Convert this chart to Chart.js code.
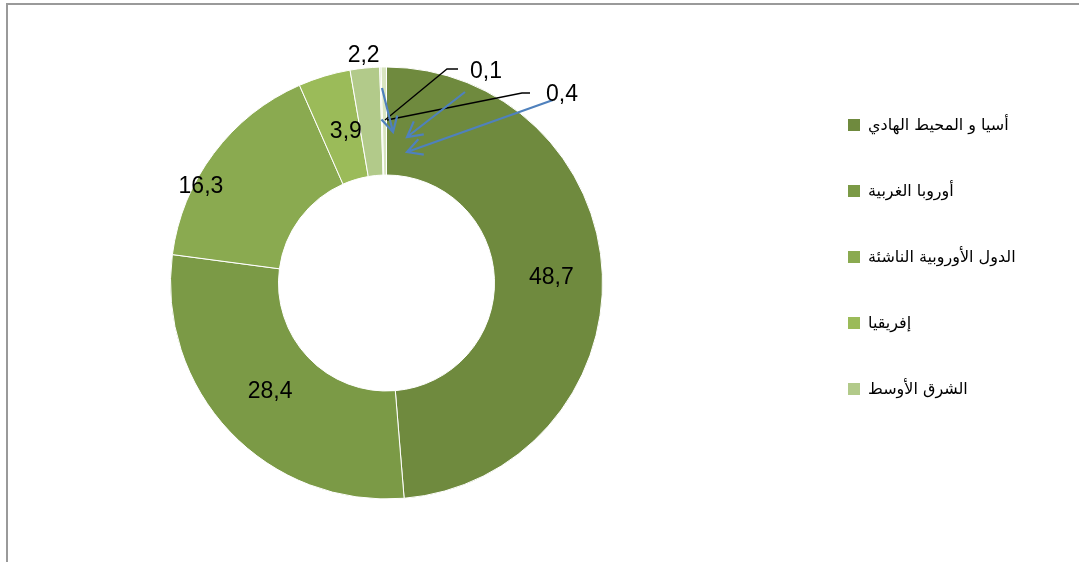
<!DOCTYPE html>
<html>
<head>
<meta charset="utf-8">
<script src="https://cdn.jsdelivr.net/npm/chart.js@4.4.1/dist/chart.umd.min.js"></script>
<style>
    body { margin: 0; background: #fff; width: 1079px; height: 562px; overflow: hidden; position: relative; }
    #frame { position: absolute; left: 6px; top: 3px; width: 1100px; height: 600px; border-left: 2px solid #9a9a9a; border-top: 2px solid #9a9a9a; }
    #wrap { position: absolute; left: 0; top: 0; width: 1079px; height: 562px; }
    #legend { position: absolute; left: 848px; top: 117px; margin: 0; padding: 0; list-style: none; font-family: 'DejaVu Sans', sans-serif; font-size: 16px; color: #000; }
    #legend li { height: 66px; display: flex; align-items: flex-start; line-height: 16px; }
    #legend .box { width: 12px; height: 12px; margin-top: 2px; flex: none; }
    #legend .txt { margin-left: 8px; white-space: nowrap; }
</style>
</head>
<body>
<div id="frame"></div>
<div id="wrap"><canvas id="regionChart"></canvas></div>
<ul id="legend"></ul>
<script>
const regions = ['أسيا و المحيط الهادي', 'أوروبا الغربية', 'الدول الأوروبية الناشئة', 'إفريقيا', 'الشرق الأوسط', 'أمريكا الشمالية', 'أمريكا اللاتينية'];
const shares = [48.7, 28.4, 16.3, 3.9, 2.2, 0.1, 0.4];
const sliceColors = ['#6f8a3e', '#7b9a46', '#8aaa50', '#9bbb59', '#b2ca8a', '#c6d8a6', '#d8e5c0'];
const legendCount = 5; // only the first five regions appear in the legend

// legend built from the same arrays
const legendEl = document.getElementById('legend');
regions.slice(0, legendCount).forEach((name, i) => {
    const li = document.createElement('li');
    li.innerHTML = '<span class="box" style="background:' + sliceColors[i] + '"></span><span class="txt" dir="rtl">' + name + '</span>';
    legendEl.appendChild(li);
});

const fmt = v => String(v).replace('.', ',');

// label placement: 'mid' = on the ring (with pixel nudge), 'out' = outside the ring,
// 'callout' = label away from slice with leader line
const labelPlace = [
    { mode: 'mid', dx: 3, dy: 1 },
    { mode: 'mid', dx: 1, dy: -3 },
    { mode: 'mid', dx: -56, dy: 1 },
    { mode: 'mid', dx: 6, dy: 4 },
    { mode: 'out', r: 12 },
    { mode: 'callout', tx: 99.5, ty: -211, line: [[71.5, -214], [60.5, -214], [-1.5, -163]] },
    { mode: 'callout', tx: 175.5, ty: -188, line: [[143.5, -190], [135.5, -190], [0.5, -163]] }
];

// blue arrows drawn on the chart (relative to the centre)
const arrows = [
    [[-4.5, -195], [6.5, -151]],
    [[78.5, -191], [20.5, -146]],
    [[166.5, -183], [20.5, -131]]
];

const labelPlugin = {
    id: 'sliceLabels',
    afterDatasetsDraw(chart) {
        const ctx = chart.ctx;
        const meta = chart.getDatasetMeta(0);
        const cx = meta.data[0].x;
        const cy = meta.data[0].y;
        const R = meta.data[0].outerRadius;

        ctx.save();
        // leader lines
        ctx.strokeStyle = '#000';
        ctx.lineWidth = 1.3;
        labelPlace.forEach(p => {
            if (p.mode !== 'callout') return;
            ctx.beginPath();
            p.line.forEach((pt, k) => {
                if (k === 0) ctx.moveTo(cx + pt[0], cy + pt[1]);
                else ctx.lineTo(cx + pt[0], cy + pt[1]);
            });
            ctx.stroke();
        });

        // arrows
        ctx.strokeStyle = '#4f81bd';
        ctx.lineWidth = 2.2;
        arrows.forEach(a => {
            const x1 = cx + a[0][0], y1 = cy + a[0][1];
            const x2 = cx + a[1][0], y2 = cy + a[1][1];
            const ang = Math.atan2(y2 - y1, x2 - x1);
            ctx.beginPath();
            ctx.moveTo(x1, y1);
            ctx.lineTo(x2, y2);
            ctx.moveTo(x2 - 17 * Math.cos(ang - 0.5), y2 - 17 * Math.sin(ang - 0.5));
            ctx.lineTo(x2, y2);
            ctx.lineTo(x2 - 17 * Math.cos(ang + 0.5), y2 - 17 * Math.sin(ang + 0.5));
            ctx.stroke();
        });

        // value labels
        ctx.fillStyle = '#000';
        ctx.font = '23px "Liberation Sans", Arial, sans-serif';
        ctx.textAlign = 'center';
        ctx.textBaseline = 'middle';
        meta.data.forEach((arc, i) => {
            const p = labelPlace[i];
            const txt = fmt(shares[i]);
            if (p.mode === 'mid') {
                const c = arc.tooltipPosition();
                ctx.fillText(txt, c.x + p.dx, c.y + p.dy);
            } else if (p.mode === 'out') {
                const mid = (arc.startAngle + arc.endAngle) / 2;
                ctx.fillText(txt, cx + Math.cos(mid) * (R + p.r), cy + Math.sin(mid) * (R + p.r));
            } else {
                ctx.fillText(txt, cx + p.tx, cy + p.ty);
            }
        });
        ctx.restore();
    }
};

const ctxChart = document.getElementById('regionChart').getContext('2d');
new Chart(ctxChart, {
    type: 'doughnut',
    data: {
        labels: regions,
        datasets: [{
            data: shares,
            backgroundColor: sliceColors,
            borderColor: '#ffffff',
            borderWidth: 1
        }]
    },
    options: {
        responsive: true,
        maintainAspectRatio: false,
        animation: false,
        cutout: '50%',
        layout: {
            padding: { left: 170, right: 476, top: 66, bottom: 62 }
        },
        plugins: {
            legend: { display: false },
            tooltip: { enabled: false }
        }
    },
    plugins: [labelPlugin]
});
</script>
</body>
</html>
